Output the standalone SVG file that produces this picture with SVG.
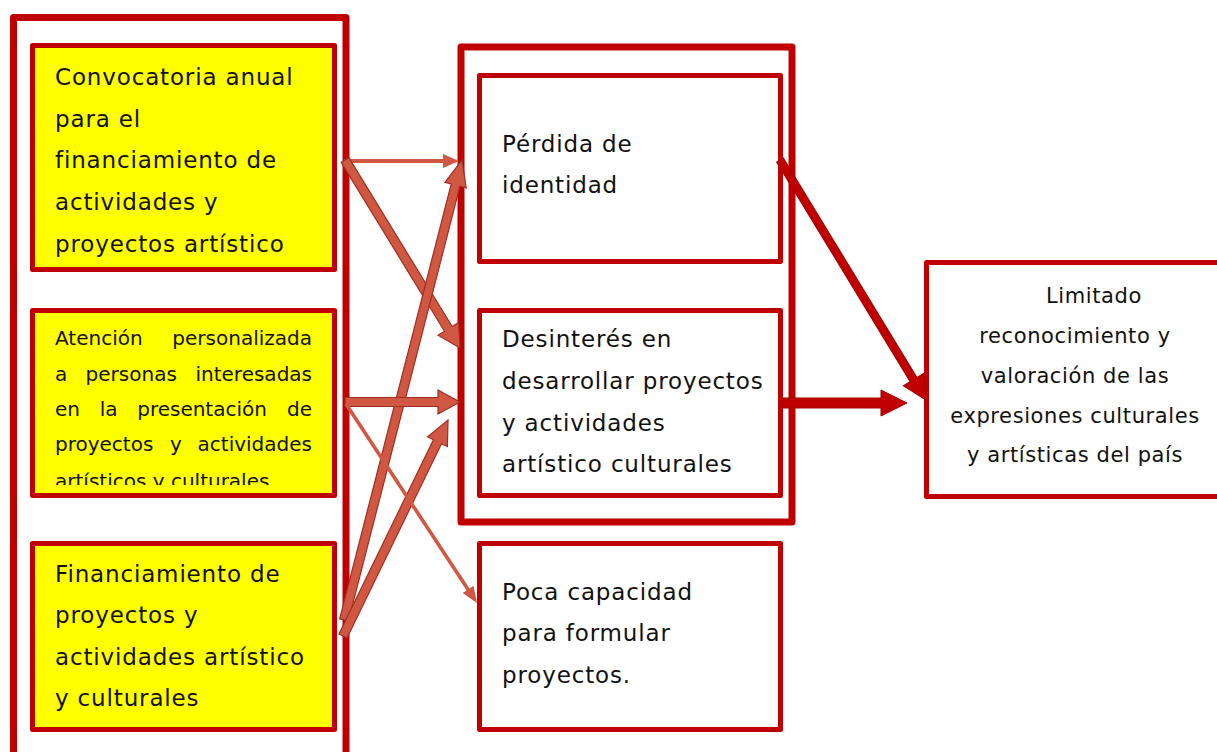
<svg xmlns="http://www.w3.org/2000/svg" width="1217" height="752" viewBox="0 0 1217 752">
<defs>
<style>
.frame{fill:#fff;stroke:#C00000;stroke-width:7;stroke-linejoin:round}
.box{fill:#fff;stroke:#C00000;stroke-width:5;stroke-linejoin:round}
.ybox{fill:#FFFF00;stroke:#C00000;stroke-width:5;stroke-linejoin:round}
.t{font-family:"DejaVu Sans","Liberation Sans",sans-serif;font-size:23px;letter-spacing:0.85px;fill:#111}
.ts{font-family:"DejaVu Sans","Liberation Sans",sans-serif;font-size:20px;fill:#111}
.tr{font-family:"DejaVu Sans","Liberation Sans",sans-serif;font-size:21px;letter-spacing:0.6px;fill:#111;text-anchor:middle}
.a{fill:#D05843;stroke:#9E2E22;stroke-width:1.2;stroke-linejoin:miter}
.at{fill:#D05843;stroke:none}
.b{fill:#C00000;stroke:#A00000;stroke-width:1}
</style>
<clipPath id="clipAt"><rect x="30" y="308" width="307" height="177"/></clipPath>
</defs>

<g id="frame-left"><rect class="frame" x="13.5" y="17.5" width="332.5" height="800"/></g>
<g id="frame-mid"><rect class="frame" x="461" y="47" width="331" height="475"/></g>

<g id="n1">
<rect class="ybox" x="32.5" y="45.5" width="302" height="224"/>
<text class="t" x="55" y="85">Convocatoria anual</text>
<text class="t" x="55" y="127">para el</text>
<text class="t" x="55" y="168">financiamiento de</text>
<text class="t" x="55" y="210">actividades y</text>
<text class="t" x="55" y="252">proyectos artístico</text>
</g>

<g id="n2">
<rect class="ybox" x="32.5" y="310.5" width="302" height="185"/>
<g clip-path="url(#clipAt)">
<text class="ts" y="345"><tspan x="55">Atención</tspan><tspan x="312" text-anchor="end">personalizada</tspan></text>
<text class="ts" y="381"><tspan x="55">a</tspan><tspan x="85.6">personas</tspan><tspan x="312" text-anchor="end">interesadas</tspan></text>
<text class="ts" y="416"><tspan x="55">en</tspan><tspan x="99.7">la</tspan><tspan x="137.2">presentación</tspan><tspan x="312" text-anchor="end">de</tspan></text>
<text class="ts" y="451"><tspan x="55">proyectos</tspan><tspan x="170">y</tspan><tspan x="312" text-anchor="end">actividades</tspan></text>
<text class="ts" x="55" y="488">artísticos y culturales.</text>
</g>
</g>

<g id="n3">
<rect class="ybox" x="32.5" y="543.5" width="302" height="186"/>
<text class="t" x="55" y="582">Financiamiento de</text>
<text class="t" x="55" y="623">proyectos y</text>
<text class="t" x="55" y="665">actividades artístico</text>
<text class="t" x="55" y="706">y culturales</text>
</g>

<g id="n4">
<rect class="box" x="479.5" y="75.5" width="301" height="186"/>
<text class="t" x="502" y="152">Pérdida de</text>
<text class="t" x="502" y="193">identidad</text>
</g>

<g id="n5">
<rect class="box" x="479.5" y="310.5" width="301" height="185"/>
<text class="t" x="502" y="347">Desinterés en</text>
<text class="t" x="502" y="389">desarrollar proyectos</text>
<text class="t" x="502" y="431">y actividades</text>
<text class="t" x="502" y="472">artístico culturales</text>
</g>

<g id="n6">
<rect class="box" x="479.5" y="543.5" width="301" height="186"/>
<text class="t" x="502" y="600">Poca capacidad</text>
<text class="t" x="502" y="641">para formular</text>
<text class="t" x="502" y="683">proyectos.</text>
</g>

<g id="n7">
<rect class="box" x="926.5" y="262.5" width="310" height="234"/>
<text class="tr" x="1094" y="303">Limitado</text>
<text class="tr" x="1075" y="343">reconocimiento y</text>
<text class="tr" x="1075" y="383">valoración de las</text>
<text class="tr" x="1075" y="423">expresiones culturales</text>
<text class="tr" x="1075" y="462">y artísticas del país</text>
</g>

<g id="connectors">
<polygon class="at" transform="translate(344,161)" points="0,-2 99,-2 99,-7 115,0 99,7 99,2 0,2"/>
<polygon class="a" transform="translate(345,160) rotate(58.54)" points="0,-4.5 198,-4.5 198,-12 220.4,0 198,12 198,4.5 0,4.5"/>
<polygon class="a" transform="translate(344,620) rotate(-75.61)" points="0,-4.5 449,-4.5 449,-11 474.9,0 449,11 449,4.5 0,4.5"/>
<polygon class="a" transform="translate(345,402)" points="0,-4.5 93,-4.5 93,-12 115,0 93,12 93,4.5 0,4.5"/>
<polygon class="a" transform="translate(343,636) rotate(-64.07)" points="0,-4.5 216,-4.5 216,-11 240.2,0 216,11 216,4.5 0,4.5"/>
<polygon class="at" transform="translate(346,404) rotate(56.64)" points="0,-1.8 222,-1.8 222,-6.5 238.2,0 222,6.5 222,1.8 0,1.8"/>
<polygon class="b" transform="translate(780,160) rotate(58.69)" points="0,-4 257,-4 257,-12 280.9,0 257,12 257,4 0,4"/>
<polygon class="b" transform="translate(783,403)" points="0,-5 98,-5 98,-13 124,0 98,13 98,5 0,5"/>
</g>
</svg>
